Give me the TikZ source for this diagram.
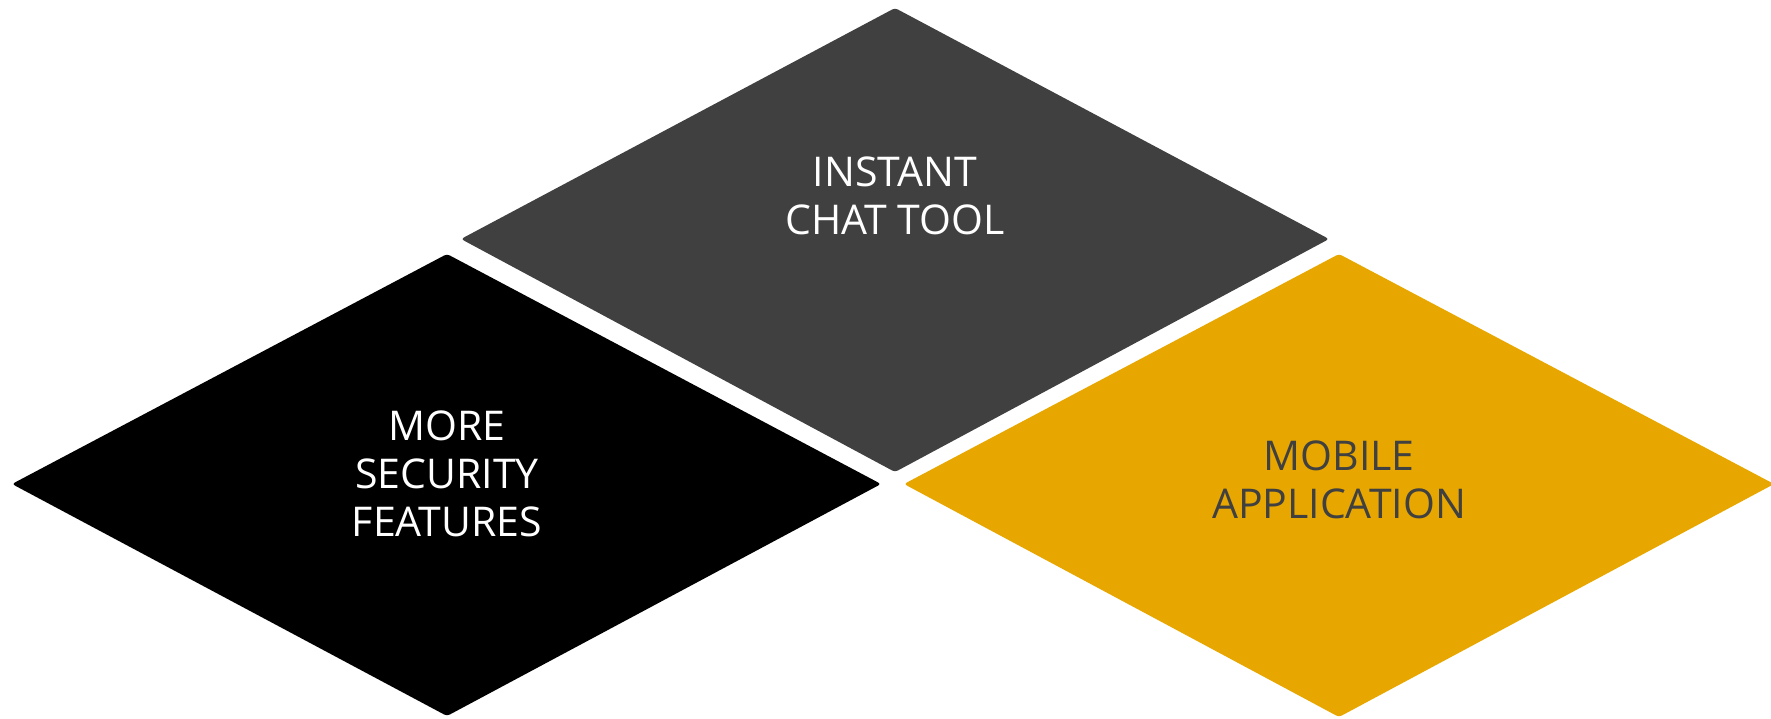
\documentclass[tikz,border=0pt]{standalone}
\usepackage{fontspec}
\setmainfont{Open Sans}
\definecolor{darkgrey}{HTML}{404040}
\definecolor{goldfill}{HTML}{E7A700}
\begin{document}
\begin{tikzpicture}[x=1pt,y=-1pt,
  tile/.style={rounded corners=3pt, draw=none},
  lbl/.style={align=center, inner sep=0pt, font=\fontsize{41}{48}\selectfont}]
\useasboundingbox (0,0) rectangle (1771,718);
% top diamond
\fill[tile, darkgrey] (895,8) -- (1329,239) -- (895,472) -- (461,239) -- cycle;
% black diamond
\fill[tile, black] (447,254) -- (881,484) -- (447,716) -- (12,484) -- cycle;
% gold diamond
\fill[tile, goldfill] (1339,254) -- (1774,484) -- (1339,717) -- (904,484) -- cycle;
\node[lbl, text=white] (chat) at (895,195.5) {INSTANT\\CHAT TOOL};
\node[lbl, text=white] (sec) at (447,474) {MORE\\SECURITY\\FEATURES};
\node[lbl, text=darkgrey] (mob) at (1339,480) {MOBILE\\APPLICATION};
\end{tikzpicture}
\end{document}
